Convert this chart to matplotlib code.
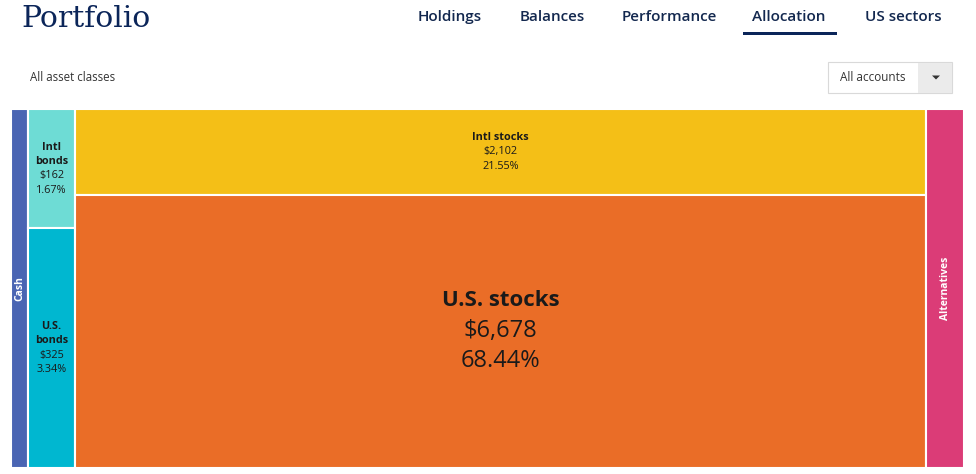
import matplotlib.pyplot as plt
from matplotlib.patches import Rectangle, Polygon

plt.rcParams['font.family'] = ['Open Sans', 'DejaVu Sans']

# treemap data (cash / alternatives values are not shown)
groups = ['Cash', 'Bonds', 'Stocks', 'Alternatives']
names = [['Cash'], ['Intl\nbonds', 'U.S.\nbonds'], ['Intl stocks', 'U.S. stocks'], ['Alternatives']]
values = [[175], [162, 325], [2102, 6678], [390]]
pcts = [[None], ['1.67%', '3.34%'], ['21.55%', '68.44%'], [None]]
colors = [['#4a65b3'], ['#6edcd5', '#00b7d0'], ['#f4bf17', '#ea6d27'], ['#db3c77']]

nav = ['Holdings', 'Balances', 'Performance', 'Allocation', 'US sectors']
nav_x = [450, 552, 669, 789, 903]
navy = '#0b2559'

fig = plt.figure(figsize=(9.76, 4.74), dpi=100)
W, H = 976, 474

def fx(x):
    return x / W

def fy(y):
    return 1 - y / H

# header
fig.text(fx(21), fy(19), 'Portfolio', family='DejaVu Serif', fontsize=21.5,
         color=navy, va='center', ha='left')
for lab, x in zip(nav, nav_x):
    fig.text(fx(x), fy(17), lab, fontsize=11, weight='semibold', color='#13284f',
             ha='center', va='center')
fig.add_artist(Rectangle((fx(743), fy(35)), fx(837) - fx(743), 3 / H,
                         transform=fig.transFigure, color=navy, lw=0))
fig.text(fx(30), fy(77.5), 'All asset classes', fontsize=8.3, color='#333333',
         ha='left', va='center')

# dropdown
fig.add_artist(Rectangle((fx(828), fy(93)), fx(952) - fx(828), 31 / H,
                         transform=fig.transFigure, facecolor='white',
                         edgecolor='#d9d9d9', lw=0.8))
fig.add_artist(Rectangle((fx(918), fy(92.5)), fx(951.5) - fx(918), 30 / H,
                         transform=fig.transFigure, facecolor='#ebebeb', lw=0))
fig.text(fx(873), fy(77.5), 'All accounts', fontsize=8.5, color='#333333',
         ha='center', va='center')
fig.add_artist(Polygon([(fx(932), fy(75.5)), (fx(940), fy(75.5)), (fx(936), fy(79.5))],
                       closed=True, transform=fig.transFigure, color='#333333', lw=0))

# treemap, slice and dice: columns by group, stacked inside a column
ax = fig.add_axes([fx(11), fy(468), (964 - 11) / W, (468 - 109) / H])
total = sum(sum(v) for v in values)
ax.set_xlim(0, total)
ax.set_ylim(1, 0)
ax.axis('off')

x0 = 0
for gi, g in enumerate(groups):
    gsum = sum(values[gi])
    y0 = 0
    for ni, v in enumerate(values[gi]):
        h = v / gsum
        ax.add_patch(Rectangle((x0, y0), gsum, h, facecolor=colors[gi][ni],
                               edgecolor='white', lw=1.5))
        cx, cy = x0 + gsum / 2, y0 + h / 2
        name = names[gi][ni]
        if pcts[gi][ni] is None:
            ax.text(cx, cy, name, rotation=90, color='white', weight='bold',
                    fontsize=7.5, ha='center', va='center')
        elif name == 'U.S. stocks':
            ax.annotate(name, (cx, cy), xytext=(0, 22), textcoords='offset points',
                        fontsize=16, weight='bold', color='#1a1a1a', ha='center', va='center')
            ax.annotate('${:,}'.format(v), (cx, cy), xytext=(0, 0), textcoords='offset points',
                        fontsize=17, color='#1a1a1a', ha='center', va='center')
            ax.annotate(pcts[gi][ni], (cx, cy), xytext=(0, -21.5), textcoords='offset points',
                        fontsize=17, color='#1a1a1a', ha='center', va='center')
        else:
            lines = name.split('\n')
            rows = lines + ['${:,}'.format(v), pcts[gi][ni]]
            n = len(rows)
            for ri, r in enumerate(rows):
                off = ((n - 1) / 2 - ri) * 10.4
                ax.annotate(r, (cx, cy), xytext=(0, off), textcoords='offset points',
                            fontsize=7.8, color='#1a1a1a', ha='center', va='center',
                            weight='bold' if ri < len(lines) else 'normal')
        y0 += h
    x0 += gsum

fig.savefig('out.png', dpi=100)
